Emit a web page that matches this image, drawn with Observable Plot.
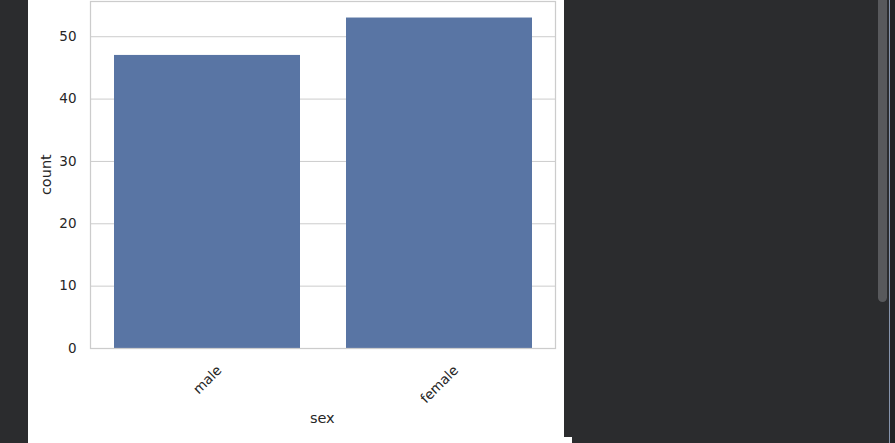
<!DOCTYPE html>
<html>
<head>
<meta charset="utf-8">
<script src="https://cdn.jsdelivr.net/npm/d3@7"></script>
<script src="https://cdn.jsdelivr.net/npm/@observablehq/plot@0.6"></script>
<style>
  html, body { margin: 0; padding: 0; width: 895px; height: 443px; overflow: hidden; background: #2b2c2e; font-family: "DejaVu Sans", sans-serif; }
  #panel { position: absolute; left: 28px; top: 0; width: 536px; height: 443px; background: #ffffff; }
  #notch { position: absolute; left: 564px; top: 437px; width: 8px; height: 6px; background: #ffffff; }
  #scroll { position: absolute; left: 878px; top: 0; width: 9px; height: 302px; background: #58595c; border-radius: 0 0 5px 5px; }
  #edge { position: absolute; left: 889px; top: 0; width: 1px; height: 443px; background: #8795ad; }
  #edge2 { position: absolute; left: 890px; top: 0; width: 5px; height: 443px; background: #222325; }
</style>
</head>
<body>
<div id="panel"></div>
<div id="notch"></div>
<div id="scroll"></div>
<div id="edge"></div>
<div id="edge2"></div>
<script>
const categories = ["male", "female"];
const counts = [47, 53];
const yTicks = [0, 10, 20, 30, 40, 50];
const xLabel = "sex";
const yLabel = "count";

const data = categories.map((c, i) => ({sex: c, count: counts[i]}));
const textColor = "#262626";
const gridColor = "#cccccc";

const chart = Plot.plot({
  width: 536,
  height: 443,
  marginLeft: 62,
  marginRight: 9,
  marginTop: 1,
  marginBottom: 95,
  style: {background: "#ffffff", fontFamily: "DejaVu Sans, sans-serif", color: textColor},
  x: {type: "band", domain: categories, paddingInner: 0.2, paddingOuter: 0.1, axis: null},
  y: {domain: [0, 55.65], axis: null},
  marks: [
    Plot.gridY(yTicks, {stroke: gridColor, strokeOpacity: 1, strokeWidth: 1}),
    Plot.barY(data, {x: "sex", y: "count", fill: "#5975a4"}),
    Plot.frame({stroke: gridColor, strokeWidth: 1.25}),
    Plot.axisY(yTicks, {tickSize: 0, tickPadding: 14, label: null, fontSize: 13.5, fill: textColor}),
    Plot.text(categories, {x: d => d, frameAnchor: "bottom", rotate: -45, textAnchor: "middle", lineAnchor: "middle", fontSize: 13.5, fill: textColor, className: "xtick"}),
    Plot.text([xLabel], {frameAnchor: "bottom", lineAnchor: "middle", fontSize: 14.5, fill: textColor, className: "xlabel"}),
    Plot.text([yLabel], {frameAnchor: "left", rotate: -90, lineAnchor: "middle", fontSize: 14.5, fill: textColor, className: "ylabel"})
  ]
});
document.getElementById("panel").appendChild(chart);

// post-layout alignment (matplotlib-like label placement relative to the frame)
const svgBox = chart.getBoundingClientRect();
const yr = chart.scale("y").range;   // [bottom, top]
const xr = chart.scale("x").range;   // [left, right]
const frameTop = svgBox.top + Math.min(...yr);
const frameBottom = svgBox.top + Math.max(...yr);
const frameLeft = svgBox.left + Math.min(...xr);
const frameRight = svgBox.left + Math.max(...xr);

function shift(el, dx, dy) {
  const tr = el.getAttribute("transform") || "";
  el.setAttribute("transform", `translate(${dx},${dy}) ` + tr);
}
function centerAt(el, cx, cy) {
  const r = el.getBoundingClientRect();
  shift(el, cx - (r.left + r.width / 2), cy - (r.top + r.height / 2));
}

// rotated tick labels: top of rotated box a fixed pad below the axis, centered on the band
chart.querySelectorAll(".xtick text").forEach(t => {
  const r = t.getBoundingClientRect();
  shift(t, 0, (frameBottom + 14) - r.top);
});
// axis titles
chart.querySelectorAll(".xlabel text").forEach(t => centerAt(t, (frameLeft + frameRight) / 2, frameBottom + 70));
chart.querySelectorAll(".ylabel text").forEach(t => centerAt(t, frameLeft - 44, (frameTop + frameBottom) / 2));
</script>
</body>
</html>
